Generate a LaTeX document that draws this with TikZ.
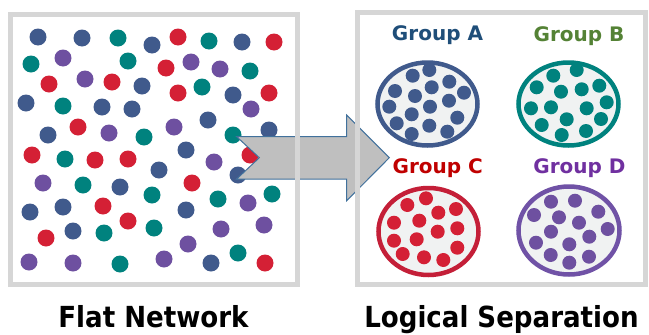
\documentclass[tikz,border=0pt]{standalone}
\usepackage{fontspec}
\setmainfont{DejaVu Sans}
\newfontfamily\titlefont{DejaVu Sans Condensed}
\usetikzlibrary{shapes,arrows}

\definecolor{boxgray}{HTML}{D6D6D6}
\definecolor{dotblue}{HTML}{405A8C}
\definecolor{dotteal}{HTML}{00827E}
\definecolor{dotred}{HTML}{D42035}
\definecolor{dotpurple}{HTML}{6E50A0}
\definecolor{ringred}{HTML}{C41F38}
\definecolor{ringpurple}{HTML}{7052A6}
\definecolor{textA}{HTML}{1F4E79}
\definecolor{textB}{HTML}{548235}
\definecolor{textC}{HTML}{C00000}
\definecolor{textD}{HTML}{7030A0}
\definecolor{arrowfill}{HTML}{BFBFBF}
\definecolor{arrowline}{HTML}{41719C}
\definecolor{ringfill}{HTML}{F0F2F2}

\begin{document}
\begin{tikzpicture}[x=1pt, y=-1pt]
    	% Define block styles
    	\tikzstyle{panel} = [rectangle, fill=white, inner sep=0pt]
    	\tikzstyle{frame} = [draw=boxgray, line width=5pt]
    	\tikzstyle{ring} = [ellipse, fill=ringfill, line width=4.5pt, inner sep=0pt]
    	\tikzstyle{grouplabel} = [anchor=base, font=\bfseries\fontsize{20}{24}\selectfont]
    	\tikzstyle{caption} = [anchor=base, inner sep=0pt, font=\titlefont\bfseries\fontsize{29}{33}\selectfont]
    	\tikzstyle{bigarrow} = [fill=arrowfill, draw=arrowline, line width=1pt, line join=miter]

    	\useasboundingbox (0,0) rectangle (649,335);

    	% Panels
    	\node [panel, minimum width=287pt, minimum height=269pt] (flat) at (154,149.5) {};
    	\node [panel, minimum width=288pt, minimum height=272pt] (logical) at (501.5,148.5) {};

    	% Flat network dots
    	\foreach \x/\y in {38/37,82/38,152/45,242/42,142/86,233/95,26/103,102/107,132/109,208/120,48/135,269/130,186/150,159/170,238/175,120/187,30/212,63/207,186/210,73/231,211/263}
    		\fill [dotblue] (\x,\y) circle (8.5);
    	\foreach \x/\y in {118/38,209/41,31/64,128/61,250/71,202/87,63/106,144/137,233/135,65/159,83/185,152/195,218/199,272/194,154/228,104/233,238/253,120/264}
    		\fill [dotteal] (\x,\y) circle (8.5);
    	\foreach \x/\y in {274/42,178/37,166/68,49/84,112/82,178/93,269/93,78/127,32/155,95/160,128/159,250/155,192/183,103/206,128/221,46/238,265/263}
    		\fill [dotred] (\x,\y) circle (8.5);
    	\foreach \x/\y in {63/58,191/62,220/69,85/79,251/109,174/127,109/133,214/162,43/183,248/203,221/229,264/225,188/244,29/262,73/263,164/259}
    		\fill [dotpurple] (\x,\y) circle (8.5);

    	% Arrow
    	\draw [bigarrow] (236.7,136.7) -- (346.7,136.7) -- (346.7,115) -- (389.3,157.7) -- (346.7,200.7) -- (346.7,179) -- (236.7,179) -- (259.3,157.7) -- cycle;

    	% Panel frames
    	\draw [frame] (flat.north west) rectangle (flat.south east);
    	\draw [frame] (logical.north west) rectangle (logical.south east);

    	% Groups
    	\node [ring, draw=dotblue, minimum width=100pt, minimum height=83pt] (group a) at (427.5,104) {};
    	\node [ring, draw=dotteal, minimum width=100pt, minimum height=83pt] (group b) at (568.5,104) {};
    	\node [ring, draw=ringred, minimum width=100pt, minimum height=87pt] (group c) at (428.5,231.5) {};
    	\node [ring, draw=ringpurple, minimum width=101pt, minimum height=88pt] (group d) at (569,230.5) {};

    	\foreach \x/\y in {429.3/70,412.7/75.7,449.3/81.7,395/91,431.7/87.3,415/96,464/92.7,449/100.7,389.3/106.7,430/106.7,411.7/114.3,457.3/117.7,396.7/123.3,429.3/125.7,411.7/134,447.3/131.7}
    		\fill [dotblue] (\x,\y) circle (7);
    	\foreach \x/\y in {576.7/70,553.3/75.7,599.3/85.7,536.7/87.3,561/91.7,581.7/89.3,606.7/102.3,531/108.3,551/107.3,586.7/108.3,566.7/119.3,601/119,541.7/125,586/131,561.7/135}
    		\fill [dotteal] (\x,\y) circle (7);
    	\foreach \x/\y in {426/198.3,407.3/205,456/209,438.3/212.7,394/222.7,419.3/220.7,457.3/228.3,437.7/231.7,394/240.7,416.7/239.3,457.3/247.7,402.7/254,424/257.3,443.3/260}
    		\fill [dotred] (\x,\y) circle (7);
    	\foreach \x/\y in {551/201.7,575/200.7,598.3/211.7,534/215,559/217.3,579/222.7,607.7/229,551/231.7,589.3/236.7,536/242.7,569.3/244.3,550.7/255,589/256.7,569.3/262.7}
    		\fill [dotpurple] (\x,\y) circle (7);

    	% Labels
    	\node [grouplabel, text=textA] (label a) at (437.5,40.5) {Group A};
    	\node [grouplabel, text=textB] (label b) at (579,41) {Group B};
    	\node [grouplabel, text=textC] (label c) at (437.7,173) {Group C};
    	\node [grouplabel, text=textD] (label d) at (579.5,173) {Group D};
    	\node [caption] (flat title) at (153.5,327.5) {Flat Network};
    	\node [caption] (logical title) at (501.5,327.5) {Logical Separation};
\end{tikzpicture}
\end{document}
